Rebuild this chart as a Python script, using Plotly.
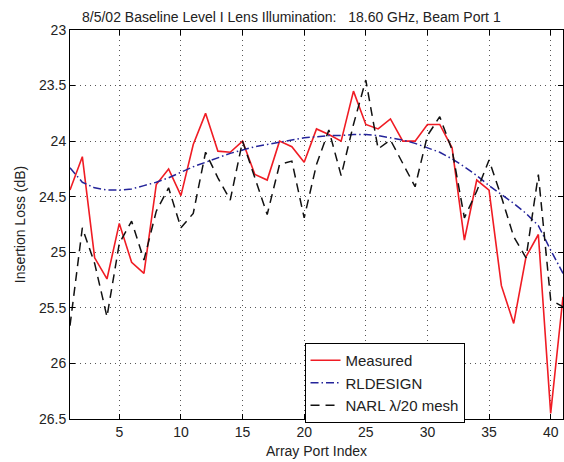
import plotly.graph_objects as go

port_index = list(range(1, 42))

measured = [24.44, 24.14, 25.05, 25.24, 24.74, 25.09, 25.19, 24.39, 24.25, 24.49,
            24.03, 23.75, 24.09, 24.10, 24.00, 24.30, 24.35, 24.00, 24.05, 24.19,
            23.89, 23.94, 24.00, 23.55, 23.85, 23.89, 23.80, 24.00, 24.00, 23.85,
            23.85, 24.06, 24.89, 24.35, 24.44, 25.30, 25.64, 25.04, 24.84, 26.45,
            25.40]

rldesign = [24.24, 24.37, 24.42, 24.44, 24.44, 24.43, 24.40, 24.37, 24.33, 24.28,
            24.23, 24.19, 24.15, 24.11, 24.08, 24.05, 24.03, 24.01, 23.99, 23.97,
            23.96, 23.95, 23.95, 23.94, 23.94, 23.95, 23.97, 23.99, 24.02, 24.06,
            24.10, 24.16, 24.23, 24.31, 24.40, 24.48, 24.56, 24.65, 24.76, 24.98,
            25.19]

narl = [25.66, 24.78, 25.10, 25.58, 24.92, 24.72, 25.07, 24.63, 24.42, 24.78,
        24.65, 24.10, 24.33, 24.53, 24.00, 24.33, 24.66, 24.21, 24.18, 24.69,
        24.21, 23.90, 24.31, 23.85, 23.45, 24.07, 23.99, 24.20, 24.41, 23.95,
        23.78, 24.08, 24.69, 24.45, 24.17, 24.50, 24.86, 25.05, 24.30, 25.43,
        25.49]

x_ticks = [5, 10, 15, 20, 25, 30, 35, 40]
y_ticks = [23, 23.5, 24, 24.5, 25, 25.5, 26, 26.5]
y_tick_labels = ["23", "23.5", "24", "24.5", "25", "25.5", "26", "26.5"]

FONT = "Liberation Sans, Arial, Helvetica, sans-serif"

fig = go.Figure()
fig.add_trace(go.Scatter(x=port_index, y=measured, mode="lines", name="Measured",
                         line=dict(color="#f01c24", width=1.6)))
fig.add_trace(go.Scatter(x=port_index, y=rldesign, mode="lines", name="RLDESIGN",
                         line=dict(color="#24249a", width=1.5, dash="8px,3px,1.5px,3px")))
fig.add_trace(go.Scatter(x=port_index, y=narl, mode="lines", name="NARL \u03bb/20 mesh",
                         line=dict(color="#111111", width=1.5, dash="9px,6px")))

axis_common = dict(
    showline=True, linecolor="black", linewidth=1, mirror="allticks",
    ticks="inside", ticklen=5, tickcolor="black",
    showgrid=True, gridcolor="#555555", gridwidth=1, griddash="1px,4px",
    zeroline=False, tickfont=dict(family=FONT, size=14, color="#222222"),
)

fig.update_xaxes(range=[1, 41], tickvals=x_ticks, **axis_common,
                 title=dict(text="Array Port Index", font=dict(family=FONT, size=14, color="#222222"),
                            standoff=7))
fig.update_yaxes(range=[26.5, 23], tickvals=y_ticks, ticktext=y_tick_labels, **axis_common,
                 title=dict(text="Insertion Loss (dB)", font=dict(family=FONT, size=14, color="#222222"),
                            standoff=10))

fig.add_annotation(text="8/5/02 Baseline Level I Lens Illumination:\u00a0\u00a0\u00a018.60 GHz, Beam Port 1",
                   xref="paper", yref="paper", x=(292 - 70) / 494, y=1.0, yshift=13,
                   xanchor="center", yanchor="middle", showarrow=False,
                   font=dict(family=FONT, size=14, color="#222222"))

fig.update_layout(
    width=564, height=462,
    margin=dict(l=70, r=1, t=30, b=43),
    paper_bgcolor="white", plot_bgcolor="white",
    showlegend=True,
    legend=dict(x=(305 - 70) / 494, y=(419 - 383) / 389, xanchor="left", yanchor="middle",
                bgcolor="white", bordercolor="black", borderwidth=1,
                font=dict(family=FONT, size=15, color="#222222"),
                tracegroupgap=0, itemwidth=30),
    font=dict(family=FONT),
)

fig.write_html("out.html")
